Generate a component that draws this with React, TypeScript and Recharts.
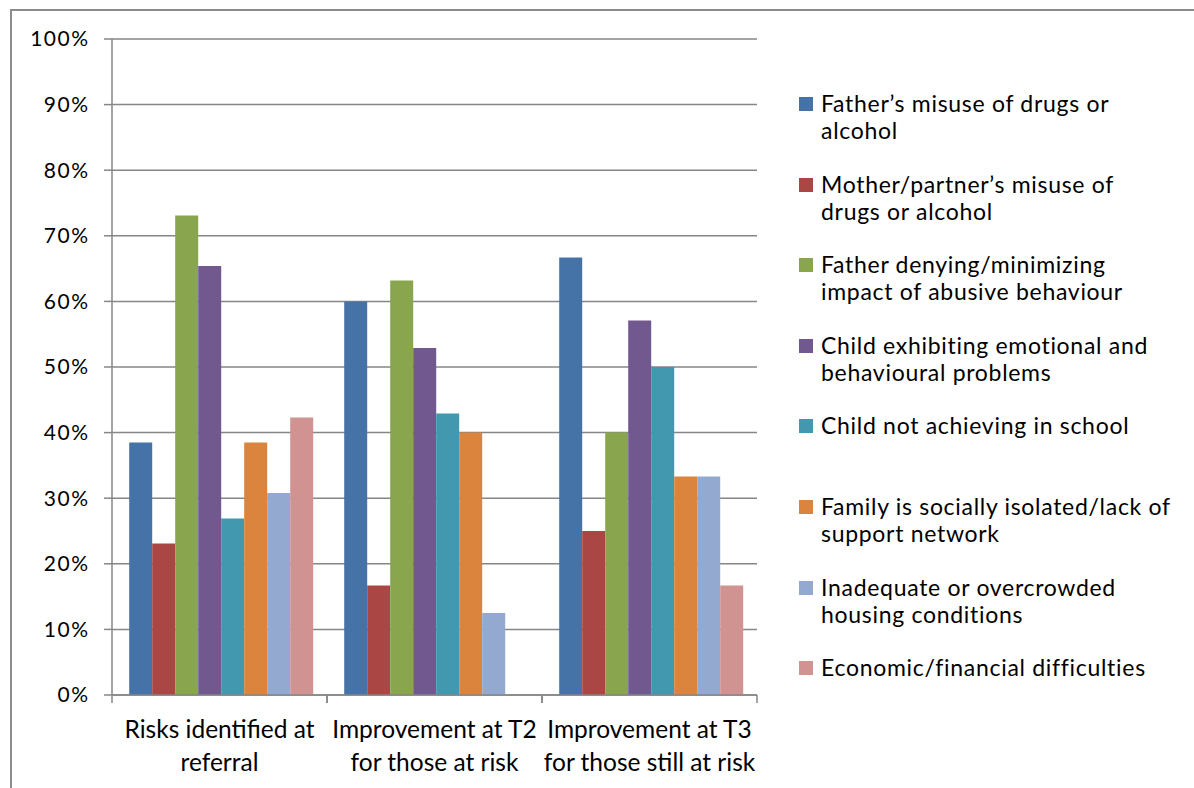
import React from 'react';
import { BarChart, Bar, XAxis, YAxis, CartesianGrid } from 'recharts';

const categories = [
  'Risks identified at\nreferral',
  'Improvement at T2\nfor those at risk',
  'Improvement at T3\nfor those still at risk',
];

const seriesNames = [
  'Father\u2019s misuse of drugs or\nalcohol',
  'Mother/partner\u2019s misuse of\ndrugs or alcohol',
  'Father denying/minimizing\nimpact of abusive behaviour',
  'Child exhibiting emotional and\nbehavioural problems',
  'Child not achieving in school',
  'Family is socially isolated/lack of\nsupport network',
  'Inadequate or overcrowded\nhousing conditions',
  'Economic/financial difficulties',
];

const fatherMisuse = [38.5, 60, 66.7];
const motherMisuse = [23.1, 16.7, 25];
const fatherDenying = [73.1, 63.2, 40];
const childEmotional = [65.4, 52.9, 57.1];
const childSchool = [26.9, 42.9, 50];
const sociallyIsolated = [38.5, 40, 33.3];
const housing = [30.8, 12.5, 33.3];
const economic = [42.3, 0, 16.7];

const yTicks = [0, 10, 20, 30, 40, 50, 60, 70, 80, 90, 100];

const colors = ['#4572A7', '#AA4643', '#89A54E', '#71588F', '#4198AF', '#DB843D', '#93A9CF', '#D19392'];

const seriesValues = [
  fatherMisuse,
  motherMisuse,
  fatherDenying,
  childEmotional,
  childSchool,
  sociallyIsolated,
  housing,
  economic,
];

const data = categories.map((name, i) => {
  const row: Record<string, string | number> = { name };
  seriesValues.forEach((vals, s) => {
    row['s' + s] = vals[i];
  });
  return row;
});

const FONT = 'Lato, "Open Sans", sans-serif';
const GRID = '#868686';

const CategoryTick = (props: any) => {
  const { x, y, payload } = props;
  const half = payload.offset || 0;
  const lines = String(payload.value).split('\n');
  return (
    <g>
      <line x1={x - half} x2={x - half} y1={y - 8} y2={y} stroke={GRID} strokeWidth={1.5} />
      <line x1={x + half} x2={x + half} y1={y - 8} y2={y} stroke={GRID} strokeWidth={1.5} />
      {lines.map((line, i) => (
        <text
          key={i}
          x={x}
          y={y + 35 + i * 33}
          textAnchor="middle"
          fontFamily={FONT}
          fontSize={24.5}
          fill="#000"
        >
          {line}
        </text>
      ))}
    </g>
  );
};

const LegendBox = () => (
  <div
    style={{
      position: 'absolute',
      left: 799,
      top: 90,
      fontFamily: FONT,
      fontSize: 23,
      letterSpacing: 0.7,
      color: '#000',
    }}
  >
    {seriesNames.map((name, i) => (
      <div key={i} style={{ position: 'relative', height: 80.6 }}>
        <div
          style={{
            position: 'absolute',
            left: 0,
            top: 7,
            width: 14,
            height: 14,
            background: colors[i],
          }}
        />
        <div style={{ marginLeft: 22, lineHeight: '27px', whiteSpace: 'pre' }}>{name}</div>
      </div>
    ))}
  </div>
);

export default function App() {
  return (
    <div
      style={{
        position: 'absolute',
        left: 0,
        top: 0,
        width: 1194,
        height: 788,
        overflow: 'hidden',
        background: '#fff',
      }}
    >
      <div
        style={{
          position: 'absolute',
          left: 10,
          top: 9,
          width: 1300,
          height: 900,
          border: '2px solid #8c8c8c',
        }}
      />
      <div style={{ position: 'absolute', left: 0, top: 0 }}>
        <BarChart
          width={1194}
          height={788}
          data={data}
          margin={{ top: 39, right: 437, left: 0, bottom: 0 }}
          barCategoryGap="8%"
          barGap={0}
        >
          <CartesianGrid horizontal vertical={false} stroke={GRID} strokeWidth={1.5} />
          <XAxis
            dataKey="name"
            height={93}
            interval={0}
            tickLine={false}
            tickSize={8}
            tickMargin={0}
            axisLine={{ stroke: GRID, strokeWidth: 1.5 }}
            tick={<CategoryTick />}
          />
          <YAxis
            width={112}
            domain={[0, 100]}
            ticks={yTicks}
            interval={0}
            tickFormatter={(v: number) => `${v}%`}
            tickSize={8}
            tickMargin={14.5}
            axisLine={{ stroke: GRID, strokeWidth: 1.5 }}
            tickLine={{ stroke: GRID, strokeWidth: 1.5 }}
            tick={{ fontFamily: FONT, fontSize: 21, fill: '#000', letterSpacing: 1.5 }}
          />
          {seriesValues.map((_, s) => (
            <Bar key={s} dataKey={'s' + s} fill={colors[s]} isAnimationActive={false} />
          ))}
        </BarChart>
      </div>
      <LegendBox />
    </div>
  );
}
